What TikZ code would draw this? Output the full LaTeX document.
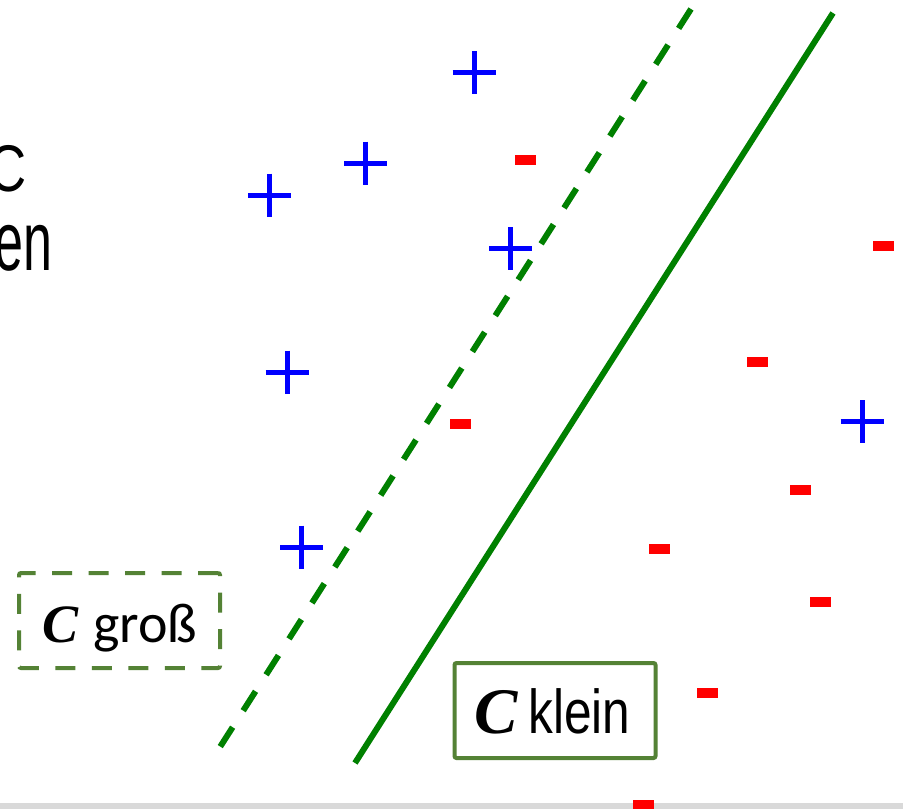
\documentclass[tikz,border=0pt]{standalone}
\usepackage{fontspec}
\newfontfamily\arialf{Liberation Sans}
\newfontfamily\calf{Carlito}
\newfontfamily\serf{Liberation Serif}
\definecolor{lineg}{RGB}{0,128,0}
\definecolor{boxg}{RGB}{84,130,53}
\definecolor{barg}{RGB}{217,217,217}
\tikzset{
  plusmark/.style={draw=blue, line width=5pt},
  minusmark/.style={fill=red},
  sepline/.style={draw=lineg, line width=6pt},
  sepdashed/.style={draw=lineg, line width=6pt, dash pattern=on 23pt off 19.6pt},
  labelbox/.style={draw=boxg, line width=4pt, rounded corners=2pt, minimum width=201pt, minimum height=95pt, inner sep=0pt},
  txt/.style={inner sep=0pt, anchor=base west}
}
\newcommand{\plusat}[2]{\draw[plusmark] (#1-21.5,#2) -- (#1+21.5,#2) (#1,#2-21.5) -- (#1,#2+21.5);}
\newcommand{\minusat}[2]{\fill[minusmark] (#1-10.5,#2-5) rectangle (#1+10.5,#2+5);}
\begin{document}
\begin{tikzpicture}[x=1pt,y=-1pt]
\useasboundingbox (0,0) rectangle (903,809);
\clip (0,0) rectangle (903,809);
\fill[white] (0,0) rectangle (903,809);
% bottom bar
\fill[barg] (0,803) rectangle (903,809);
% top-left partial text
\node[inner sep=0pt, anchor=base east] (tC) at (27,191) {\scalebox{0.8}[1]{\arialf\fontsize{66}{66}\selectfont C}};
\node[inner sep=0pt, anchor=base east] (ten) at (53,270) {\scalebox{0.62}[1]{\arialf\fontsize{84}{84}\selectfont en}};
% separating lines
\coordinate (dTop) at (691,9);
\coordinate (dBot) at (220,747);
\coordinate (sTop) at (833,13);
\coordinate (sBot) at (355,763);
\draw[sepdashed] (dTop) -- (dBot);
\draw[sepline] (sTop) -- (sBot);
% plus signs
\plusat{474}{72.5}
\plusat{365.5}{163}
\plusat{269.5}{195}
\plusat{510.5}{248.5}
\plusat{287}{372}
\plusat{862}{421.5}
\plusat{301.5}{547}
% minus signs
\minusat{525.5}{160}
\minusat{883.5}{246}
\minusat{757}{362}
\minusat{460.5}{424}
\minusat{800}{490}
\minusat{659}{549}
\minusat{820}{602}
\minusat{707}{693}
\minusat{643.5}{805}
% label boxes
\node[labelbox, dash pattern=on 20pt off 16.5pt] (gross) at (119.5,620.5) {};
\node[txt] (grossC) at (42,642) {\serf\bfseries\itshape\fontsize{54}{54}\selectfont C};
\node[txt] (grossT) at (93,642) {\calf\fontsize{56}{56}\selectfont groß};
\node[labelbox, fill=white] (klein) at (555,710.5) {};
\node[txt] (kleinC) at (474,733) {\serf\bfseries\itshape\fontsize{65}{65}\selectfont C};
\node[txt] (kleinT) at (528,733) {\scalebox{0.8}[1]{\arialf\fontsize{62}{62}\selectfont klein}};
\end{tikzpicture}
\end{document}
